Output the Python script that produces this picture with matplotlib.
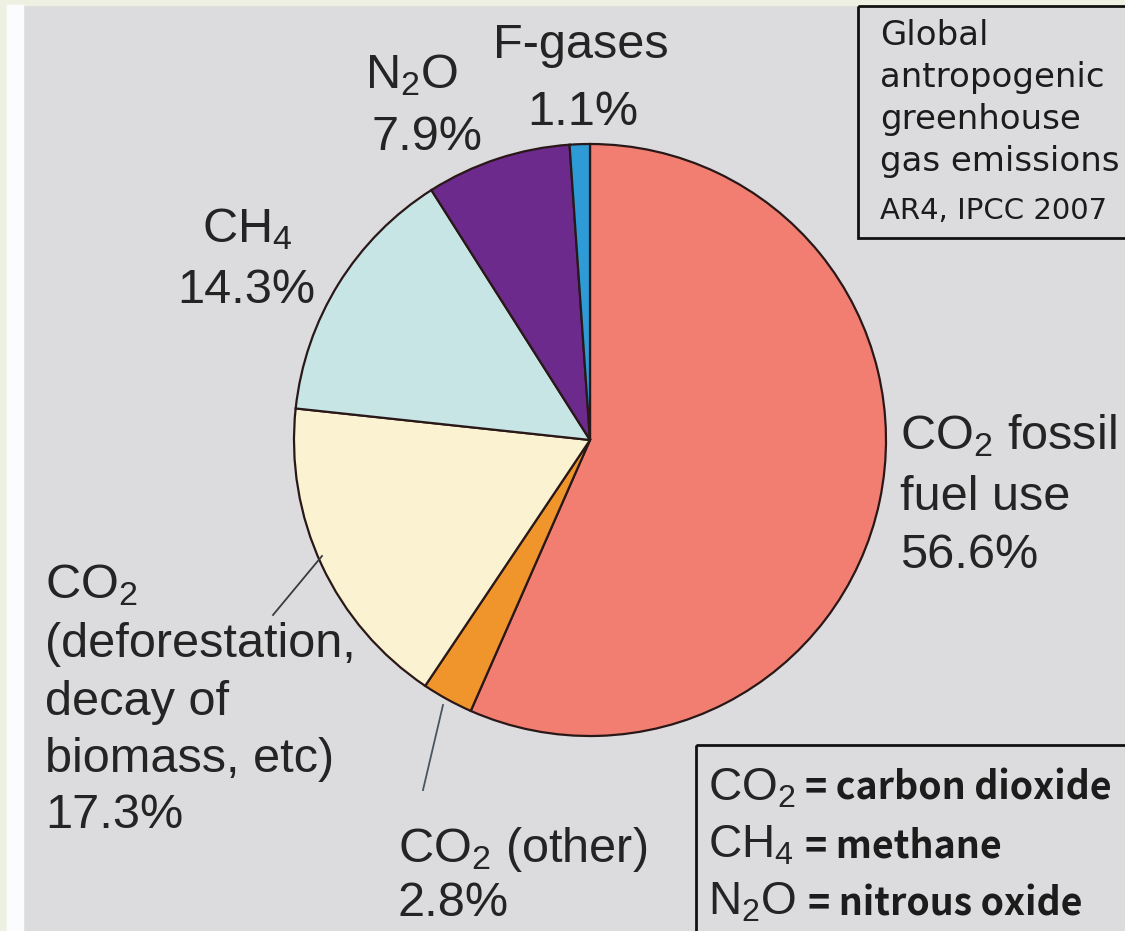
import matplotlib
matplotlib.use("Agg")
import matplotlib.pyplot as plt
from matplotlib.patches import Rectangle

plt.rcParams['font.family'] = ['Liberation Sans', 'DejaVu Sans']
plt.rcParams['mathtext.fontset'] = 'custom'
plt.rcParams['mathtext.rm'] = 'Liberation Sans'
plt.rcParams['mathtext.it'] = 'Liberation Sans'

# data (clockwise from the top)
gases = ['CO$_2$ fossil fuel use', 'CO$_2$ (other)', 'CO$_2$ deforestation',
         'CH$_4$', 'N$_2$O', 'F-gases']
shares = [56.6, 2.8, 17.3, 14.3, 7.9, 1.1]
colors = ['#f27e72', '#f0952c', '#fbf2d2', '#c6e5e4', '#6b2a8c', '#2e9bd6']

fig = plt.figure(figsize=(11.25, 9.31), dpi=100)
fig.patch.set_facecolor('#dcdcde')
ax = fig.add_axes([0, 0, 1, 1])
ax.set_xlim(0, 1125)
ax.set_ylim(931, 0)
ax.set_aspect('equal')
ax.axis('off')

# strips on the left/top edge
ax.add_patch(Rectangle((0, 0), 1125, 5, color='#eef1e2', zorder=0))
ax.add_patch(Rectangle((0, 0), 7, 931, color='#eef1e2', zorder=0))
ax.add_patch(Rectangle((7, 5), 16, 926, color='#fbfcfd', zorder=0))

# y axis is inverted, so -90 / counterclock in data = top / clockwise on screen
ax.pie(shares, colors=colors, startangle=-90, counterclock=True,
       center=(590, 440), radius=296, frame=True,
       wedgeprops=dict(edgecolor='#2a1818', linewidth=1.6))
ax.set_xlim(0, 1125)
ax.set_ylim(931, 0)
ax.axis('off')

tc = '#242424'
fs = 35

def put(x, y, s, **kw):
    ax.text(x, y, s, ha='left', va='baseline', color=tc, **kw)

# slice labels
put(900, 449, 'CO$_2$ fossil', fontsize=fs)
put(900, 510, 'fuel use', fontsize=fs)
put(900, 568, '56.6%', fontsize=fs)

put(398, 862, 'CO$_2$ (other)', fontsize=fs)
put(398, 916, '2.8%', fontsize=fs)

put(45, 598, 'CO$_2$', fontsize=fs)
put(45, 657, '(deforestation,', fontsize=fs)
put(45, 715, 'decay of', fontsize=fs)
put(45, 772, 'biomass, etc)', fontsize=fs)
put(45, 828, '17.3%', fontsize=fs)

put(202, 242, 'CH$_4$', fontsize=fs)
put(177, 303, '14.3%', fontsize=fs)

put(365, 88, 'N$_2$O', fontsize=fs)
put(372, 150, '7.9%', fontsize=fs)

put(493, 58, 'F-gases', fontsize=fs)
put(527, 125, '1.1%', fontsize=fs)

# leader lines
ax.plot([273, 322], [615, 556], color='#3a3a3a', lw=1.3)
ax.plot([443, 423], [705, 790], color='#4a5560', lw=1.3)

# source box, top right
ax.add_patch(Rectangle((858, 6), 300, 232, facecolor='none',
                       edgecolor='#111111', lw=2, zorder=3))
src = ['Global', 'antropogenic', 'greenhouse', 'gas emissions']
for i, s in enumerate(src):
    ax.text(880, 45 + 42 * i, s, fontsize=24.5, family='DejaVu Sans',
            color='#1c1c1c', va='baseline')
ax.text(880, 219, 'AR4, IPCC 2007', fontsize=21, family='DejaVu Sans',
        color='#1c1c1c', va='baseline')

# key box, bottom right
ax.add_patch(Rectangle((696, 745), 500, 300, facecolor='none',
                       edgecolor='#111111', lw=2, zorder=3))
key_sym = ['CO$_2$', 'CH$_4$', 'N$_2$O']
key_name = ['= carbon dioxide', '= methane', '= nitrous oxide']
key_x = [805, 805, 808]
for i in range(3):
    y = 800 + 57.5 * i
    put(708, y, key_sym[i], fontsize=33)
    ax.text(key_x[i], y, key_name[i], fontsize=27, fontweight='bold',
            family=['Noto Sans CJK JP', 'DejaVu Sans'], color='#1c1c1c',
            va='baseline')

fig.savefig('out.png', dpi=100, facecolor=fig.get_facecolor())
